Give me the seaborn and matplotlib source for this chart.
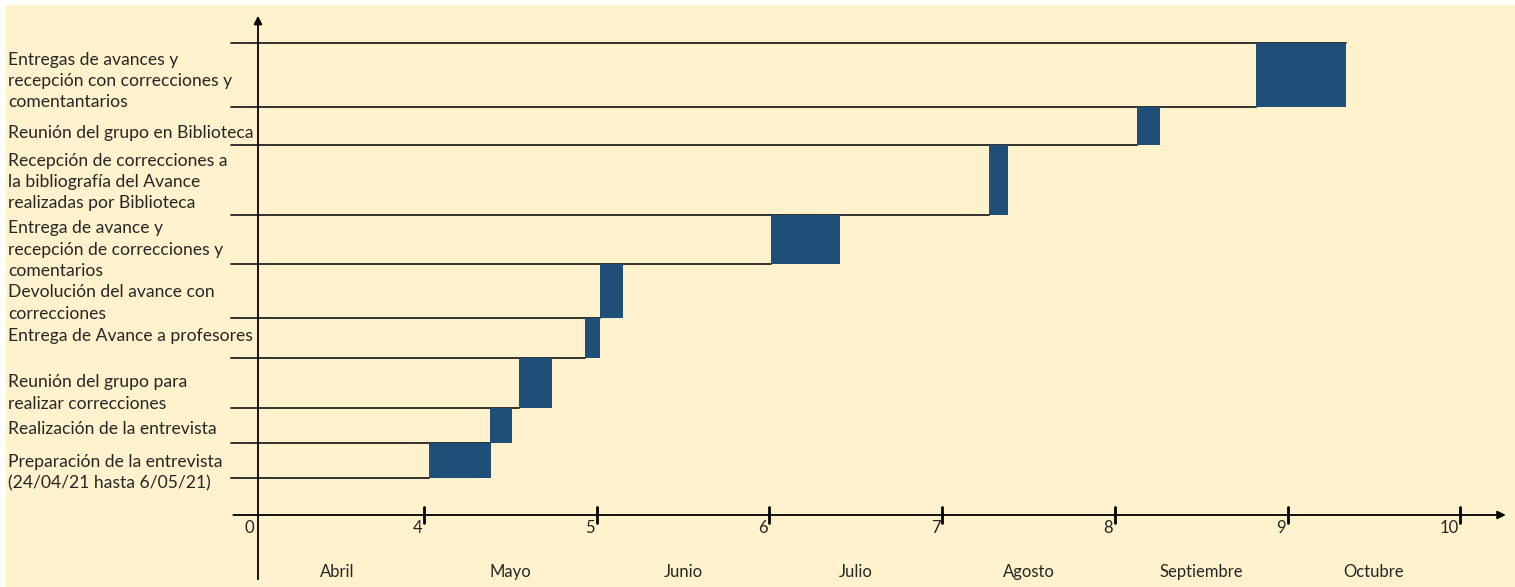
import numpy as np
import matplotlib.pyplot as plt
import seaborn as sns
from matplotlib.patches import Rectangle

# Activities (bottom to top)
tareas = [
    "Preparación de la entrevista\n(24/04/21 hasta 6/05/21)",
    "Realización de la entrevista",
    "Reunión del grupo para\nrealizar correcciones",
    "Entrega de Avance a profesores",
    "Devolución del avance con\ncorrecciones",
    "Entrega de avance y\nrecepción de correcciones y\ncomentarios",
    "Recepción de correcciones a\nla bibliografía del Avance\nrealizadas por Biblioteca",
    "Reunión del grupo en Biblioteca",
    "Entregas de avances y\nrecepción con correcciones y\ncomentantarios",
]
# start / end in months
inicio = [4.03, 4.38, 4.55, 4.93, 5.02, 6.01, 7.27, 8.13, 8.82]
fin = [4.39, 4.51, 4.74, 5.02, 5.15, 6.41, 7.38, 8.26, 9.34]
# row limits (height units above the time axis)
bordes = [37, 72, 107, 157, 197, 251, 300, 370, 408, 472]

ticks = [4, 5, 6, 7, 8, 9, 10]
meses = ["Abril", "Mayo", "Junio", "Julio", "Agosto", "Septiembre", "Octubre"]
pos_meses = [3.5, 4.5, 5.5, 6.5, 7.5, 8.5, 9.5]

# layout: how far below its row centre each label sits (px)
ajuste_txt = [12, 4, 10, -2, 12, 10, 2, 7, 6]

AZUL = '#1F4E79'
CREMA = '#FFF2CC'
TXT = '#262626'

sns.set_theme(style='white')
plt.rcParams['font.family'] = ['Lato', 'DejaVu Sans']

W, H = 1515, 587
px_mes = 172.7
ORIGEN = 4 - (424 - 258) / px_mes

fig = plt.figure(figsize=(W / 100, H / 100), dpi=100)
fig.patch.set_facecolor('white')
fig.add_artist(Rectangle((6 / W, 0), 1, (H - 5) / H, transform=fig.transFigure,
                         facecolor=CREMA, edgecolor='none', zorder=-10))

ax = fig.add_axes([0, 0, 1, 1])
ax.set_facecolor('none')
ax.set_xlim(4 - 424 / px_mes, 4 + (W - 424) / px_mes)
ax.set_ylim(515 - H, 515)
ax.set_axis_off()

# bars
for i in range(len(tareas)):
    ax.bar(inicio[i], bordes[i + 1] - bordes[i], width=fin[i] - inicio[i],
           bottom=bordes[i], align='edge', color=AZUL, edgecolor='none', zorder=3)

# row separator lines
x_izq = 2.88
for i in range(len(tareas)):
    ax.plot([x_izq, inicio[i]], [bordes[i], bordes[i]], color='#222222', lw=1.3, zorder=2)
ax.plot([x_izq, fin[-1]], [bordes[-1], bordes[-1]], color='#222222', lw=1.3, zorder=2)

# labels
x_txt = 4 - (424 - 8) / px_mes
for i, t in enumerate(tareas):
    yc = (bordes[i] + bordes[i + 1]) / 2 - ajuste_txt[i]
    ax.text(x_txt, yc, t, ha='left', va='center', fontsize=12.6, linespacing=1.4,
            color=TXT)

# axes with arrows
ax.annotate('', xy=(ORIGEN, 502), xytext=(ORIGEN, -67),
            arrowprops=dict(arrowstyle='-|>', lw=1.3, color='black', mutation_scale=12))
ax.annotate('', xy=(10.28, 0), xytext=(2.88, 0),
            arrowprops=dict(arrowstyle='-|>', lw=1.3, color='black', mutation_scale=12))

for t in ticks:
    ax.plot([t, t], [-8, 8], color='black', lw=2)
    ax.text(t - 0.01, -13, str(t), ha='right', va='center', fontsize=12, color=TXT)
ax.text(ORIGEN - 0.02, -13, '0', ha='right', va='center', fontsize=12, color=TXT)

for x, m in zip(pos_meses, meses):
    ax.text(x, -57, m, ha='center', va='center', fontsize=12, color=TXT)

fig.savefig('out.png', dpi=100)
